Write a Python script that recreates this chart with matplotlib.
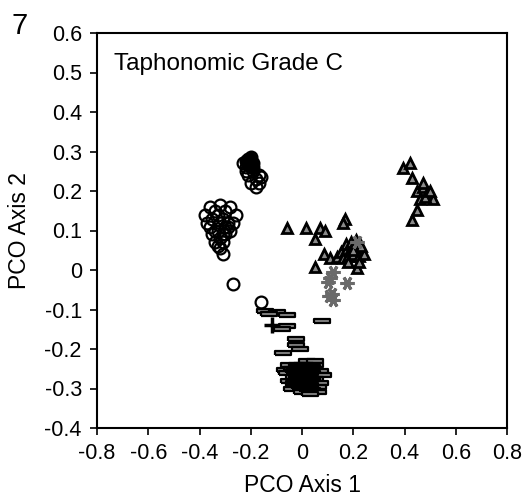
import matplotlib as mpl
import matplotlib.pyplot as plt

plt.rcParams['font.family'] = ['Liberation Sans', 'DejaVu Sans']

# open circles
circ_x = [-0.38, -0.36, -0.34, -0.32, -0.30, -0.28, -0.26, -0.37, -0.35, -0.33, -0.31, -0.29,
          -0.27, -0.36, -0.34, -0.32, -0.30, -0.28, -0.35, -0.33, -0.31, -0.29, -0.34, -0.32,
          -0.30, -0.33, -0.31, -0.32, -0.31,
          -0.23, -0.22, -0.21, -0.19, -0.18, -0.20, -0.17, -0.16, -0.18, -0.17, -0.19, -0.22,
          -0.27, -0.16]
circ_y = [0.14, 0.16, 0.15, 0.165, 0.15, 0.16, 0.14, 0.12, 0.13, 0.14, 0.13, 0.12,
          0.12, 0.11, 0.10, 0.12, 0.11, 0.10, 0.09, 0.10, 0.09, 0.11, 0.07, 0.08,
          0.09, 0.06, 0.07, 0.055, 0.04,
          0.27, 0.25, 0.24, 0.25, 0.23, 0.22, 0.24, 0.235, 0.21, 0.22, 0.26, 0.26,
          -0.035, -0.08]

# filled circles
dot_x = [-0.21, -0.20, -0.19, -0.20, -0.21, -0.22]
dot_y = [0.28, 0.285, 0.27, 0.26, 0.265, 0.275]

# triangles
tri_x = [-0.06, 0.016, 0.07, 0.09, 0.05, 0.168, 0.16, 0.086, 0.11, 0.137, 0.05, 0.215,
         0.15, 0.17, 0.19, 0.21, 0.23, 0.16, 0.18, 0.20, 0.22, 0.24, 0.17, 0.19, 0.21, 0.23,
         0.18, 0.22, 0.20,
         0.395, 0.42, 0.43, 0.45, 0.47, 0.49, 0.51, 0.46, 0.48, 0.50, 0.47, 0.45, 0.43]
tri_y = [0.106, 0.106, 0.106, 0.099, 0.078, 0.13, 0.12, 0.04, 0.03, 0.033, 0.008, 0.005,
         0.045, 0.05, 0.055, 0.06, 0.05, 0.03, 0.035, 0.04, 0.035, 0.04, 0.065, 0.07, 0.075, 0.06,
         0.02, 0.02, 0.05,
         0.258, 0.27, 0.233, 0.20, 0.21, 0.195, 0.18, 0.18, 0.185, 0.20, 0.22, 0.152, 0.127]

# asterisks
ast_x = [0.12, 0.11, 0.10, 0.175, 0.117, 0.12, 0.105, 0.215]
ast_y = [-0.005, -0.02, -0.03, -0.034, -0.06, -0.076, -0.065, 0.07]

# bars
bar_x = [-0.145, -0.10, -0.06, -0.13, -0.06, -0.08, 0.078, -0.023, -0.025, -0.008, -0.074,
         0.02, 0.05, -0.066, 0.07, 0.04, -0.03,
         -0.05, 0.0, 0.05, -0.04, 0.02, 0.07, -0.06, -0.01, 0.04, 0.08, -0.03, 0.01, 0.05,
         -0.05, 0.0, 0.03, 0.07, -0.02, 0.02, 0.06, -0.04, 0.01, 0.04, 0.06, 0.0, 0.03]
bar_y = [-0.104, -0.106, -0.114, -0.112, -0.142, -0.150, -0.129, -0.175, -0.19, -0.20, -0.21,
         -0.23, -0.23, -0.253, -0.26, -0.31, -0.297,
         -0.24, -0.24, -0.24, -0.25, -0.245, -0.255, -0.26, -0.26, -0.26, -0.265, -0.27,
         -0.275, -0.275, -0.28, -0.285, -0.285, -0.285, -0.29, -0.295, -0.295, -0.30, -0.30,
         -0.305, -0.31, -0.31, -0.315]

# black bars (dense core)
core_x = [-0.02, 0.01, 0.04, -0.03, 0.0, 0.03, -0.02, 0.01, 0.04, -0.03, 0.0, 0.03, -0.01, 0.02]
core_y = [-0.24, -0.24, -0.245, -0.255, -0.255, -0.26, -0.27, -0.27, -0.275, -0.285, -0.285,
          -0.29, -0.295, -0.30]

# plus
plus_x = [-0.117, -0.01, 0.02]
plus_y = [-0.139, -0.27, -0.26]

bar_marker = [(-1, -0.25), (1, -0.25), (1, 0.25), (-1, 0.25), (-1, -0.25)]

fig = plt.figure(figsize=(5.25, 5), dpi=100)
ax = fig.add_axes([0.185, 0.144, 0.781, 0.79])

ax.plot(bar_x, bar_y, ls='none', marker=bar_marker, ms=12, mfc='#8a8a8a', mec='black', mew=1.6)
ax.plot(core_x, core_y, ls='none', marker=bar_marker, ms=12, mfc='black', mec='black', mew=1.6)
ax.plot(plus_x, plus_y, ls='none', marker='+', ms=11, mec='black', mew=2.5)
ax.plot(tri_x, tri_y, ls='none', marker='^', ms=7.5, mfc='#8a8a8a', mec='black', mew=2)
ax.plot(ast_x, ast_y, ls='none', marker=(6, 2, 90), ms=10, mec='#6a6a6a', mew=2.2)
ax.plot(circ_x, circ_y, ls='none', marker='o', ms=8.5, mfc='none', mec='black', mew=1.6)
ax.plot(dot_x, dot_y, ls='none', marker='o', ms=8.5, mfc='black', mec='black', mew=1.6)

ax.set_xlim(-0.8, 0.8)
ax.set_ylim(-0.4, 0.6)
ax.set_xticks([-0.8, -0.6, -0.4, -0.2, 0, 0.2, 0.4, 0.6, 0.8])
ax.set_xticklabels(['-0.8', '-0.6', '-0.4', '-0.2', '0', '0.2', '0.4', '0.6', '0.8'])
ax.set_yticks([-0.4, -0.3, -0.2, -0.1, 0, 0.1, 0.2, 0.3, 0.4, 0.5, 0.6])
ax.set_yticklabels(['-0.4', '-0.3', '-0.2', '-0.1', '0', '0.1', '0.2', '0.3', '0.4', '0.5', '0.6'])
ax.tick_params(direction='out', length=5, width=1.2, labelsize=15.5, pad=6)
for s in ax.spines.values():
    s.set_linewidth(1.5)

ax.set_xlabel('PCO Axis 1', fontsize=16.5, labelpad=7)
ax.set_ylabel('PCO Axis 2', fontsize=16.5, labelpad=10)
ax.text(0.04, 0.95, 'Taphonomic Grade C', transform=ax.transAxes, fontsize=17.5,
        va='top', ha='left')
fig.text(0.022, 0.975, '7', fontsize=21, va='top', ha='left')

plt.savefig('out.png')
